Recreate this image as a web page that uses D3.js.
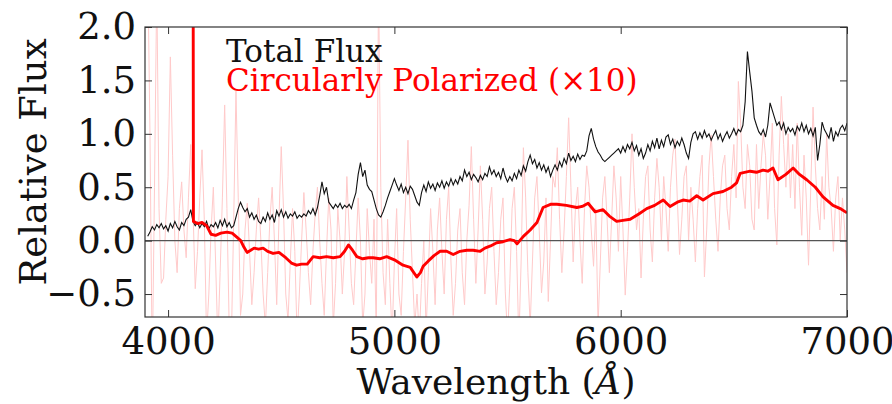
<!DOCTYPE html>
<html><head><meta charset="utf-8">
<script src="https://cdn.jsdelivr.net/npm/d3@7"></script>
<style>body{margin:0;background:#fff}svg{display:block}</style>
</head><body>
<svg id="chart" width="892" height="404"></svg>
<script>
// ---- data ----
const wlStart = 3910, wlStep = 10;           // wavelength grid (Å)
const totalFlux = [
0.04,0.08,0.13,0.10,0.15,0.12,0.16,0.11,0.14,0.09,
0.16,0.12,0.18,0.13,0.10,0.17,0.14,0.20,0.22,0.29,
0.18,0.14,0.17,0.12,0.16,0.13,0.18,0.11,0.15,0.13,
0.17,0.12,0.19,0.14,0.20,0.13,0.17,0.12,0.14,0.22,
0.30,0.36,0.31,0.27,0.30,0.22,0.26,0.20,0.24,0.18,
0.16,0.22,0.18,0.26,0.20,0.24,0.17,0.28,0.23,0.29,
0.22,0.27,0.21,0.25,0.23,0.27,0.21,0.24,0.22,0.25,
0.23,0.28,0.25,0.30,0.24,0.31,0.42,0.55,0.44,0.50,
0.36,0.33,0.30,0.34,0.31,0.35,0.30,0.33,0.31,0.34,
0.30,0.38,0.45,0.62,0.73,0.60,0.66,0.52,0.48,0.46,
0.38,0.30,0.24,0.22,0.27,0.33,0.40,0.46,0.52,0.58,
0.52,0.47,0.53,0.45,0.50,0.44,0.51,0.48,0.42,0.36,
0.33,0.45,0.52,0.46,0.55,0.49,0.53,0.47,0.54,0.50,
0.56,0.49,0.55,0.51,0.58,0.52,0.57,0.53,0.60,0.56,
0.66,0.60,0.64,0.57,0.62,0.59,0.55,0.61,0.57,0.63,
0.60,0.69,0.62,0.66,0.60,0.64,0.58,0.68,0.60,0.55,
0.60,0.56,0.63,0.58,0.66,0.61,0.70,0.65,0.74,0.80,
0.72,0.76,0.68,0.73,0.66,0.71,0.64,0.69,0.60,0.66,
0.71,0.66,0.74,0.69,0.77,0.72,0.82,0.75,0.79,0.74,
0.81,0.76,0.80,0.79,0.84,0.98,1.05,0.95,0.88,0.83,
0.80,0.76,0.74,0.76,0.78,0.80,0.82,0.84,0.86,0.82,
0.88,0.83,0.90,0.86,0.92,0.84,0.89,0.80,0.86,0.77,
0.82,0.90,0.84,0.93,0.87,0.96,0.86,0.94,0.88,0.97,
0.99,0.90,0.95,0.87,0.93,0.89,0.96,0.90,0.82,0.77,
0.92,1.00,1.02,0.95,1.01,0.96,1.03,0.97,1.00,0.94,
0.99,1.03,0.95,1.00,0.93,0.98,1.02,0.96,1.00,1.05,
0.99,1.04,1.02,1.08,1.30,1.77,1.58,1.40,1.15,1.08,
1.02,0.99,1.04,0.97,1.08,1.29,1.22,1.15,1.08,1.11,
1.04,1.10,1.00,1.06,1.02,1.05,0.99,1.07,1.03,1.10,
1.02,1.08,1.00,1.05,0.98,1.06,0.75,0.90,1.11,1.04,
1.00,0.96,1.06,0.93,1.02,0.98,1.05,1.08,1.03,1.10];
const polRaw = [
2.6,1.0,-1.2,0.5,2.4,0.3,-0.4,-0.35,0.2,0.6,
1.72,0.8,0.0,-0.3,0.3,0.55,0.1,-0.16,0.4,0.9,
0.3,-0.45,-0.1,0.4,0.85,0.2,-0.9,-0.5,0.1,0.5,
-0.2,-0.95,-0.3,0.4,1.27,0.3,-0.8,-0.9,0.2,1.40,
0.4,-0.7,-0.5,0.1,0.35,-0.1,-0.6,-0.3,0.1,0.4,
0.0,-0.5,-0.8,-0.3,0.2,0.5,0.0,-0.6,0.2,0.88,
0.3,-0.5,-0.75,-0.2,0.3,-0.1,-0.9,-0.5,0.0,0.45,
0.1,-0.3,-0.6,-0.1,0.25,0.5,0.0,-0.4,-0.7,-0.1,
0.4,0.1,-0.8,-0.4,0.3,0.0,-0.5,-0.1,0.6,0.1,
-0.4,-0.6,-0.1,0.4,0.0,-0.8,-0.5,0.3,-0.1,-0.4,
0.2,-0.9,2.4,0.5,-0.3,-0.6,0.2,-0.4,-0.9,-0.2,
0.3,-0.5,-0.7,-0.1,0.4,0.94,0.2,-0.3,-0.8,-0.5,
-0.9,-0.4,0.0,-0.85,-0.3,0.3,-0.1,-0.6,0.1,0.4,
-0.1,-0.5,0.2,0.5,-0.2,-0.7,-0.4,0.1,0.3,-0.3,
-0.6,0.0,0.33,0.88,0.2,-0.4,0.1,0.7,0.2,-0.5,
-0.2,0.3,0.5,-0.1,-0.6,-0.3,0.2,0.4,-0.48,-0.9,
-0.4,0.3,0.5,-0.1,-0.95,-0.2,0.87,0.4,-0.3,-0.8,
-0.2,0.4,0.6,0.1,-0.49,-0.2,0.4,-0.57,0.0,0.6,
0.5,0.87,0.2,-0.3,0.1,0.6,1.15,0.5,-0.2,0.3,
0.5,0.0,-0.4,0.3,0.7,0.5,0.1,-0.24,0.3,-0.8,
-0.2,0.4,0.6,0.2,-0.3,0.2,0.7,0.4,-0.1,0.6,
0.1,-0.51,-0.1,0.4,1.0,0.5,0.1,0.3,-0.35,0.2,
0.6,0.7,0.1,-0.2,0.4,0.77,0.5,0.0,0.6,0.3,
-0.1,0.5,0.8,0.95,0.4,-0.13,0.2,0.6,0.7,0.0,
0.5,0.2,-0.2,0.3,0.6,0.8,-0.34,0.1,0.7,0.99,
0.6,0.2,-0.1,0.4,0.7,0.8,0.3,0.1,0.6,0.9,
0.4,1.49,1.1,0.5,0.3,0.9,0.7,0.2,0.1,0.9,
0.3,0.7,1.0,0.8,0.2,0.6,1.1,0.3,-0.04,0.8,
1.35,0.9,0.5,1.0,0.4,0.9,0.3,1.1,0.5,0.05,
0.8,0.4,-0.23,0.5,1.25,0.7,0.3,0.1,0.6,0.2,
1.0,0.5,0.3,-0.1,0.4,0.6,0.0,0.4,0.1,-0.3];
const polSmoothWl = [4110,4112,4130,4150,4170,4190,4210,4233,4260,4283,4305,4321,4335,4349,4365,4380,4400,4420,4440,4464,4490,4520,4545,4568,4590,4615,4641,4670,4700,4730,4760,4780,4797,4815,4834,4860,4885,4906,4935,4966,5000,5038,5070,5099,5115,5127,5150,5175,5202,5231,5260,5290,5320,5348,5379,5400,5425,5452,5480,5511,5530,5542,5570,5600,5630,5657,5690,5718,5760,5806,5830,5856,5887,5922,5950,5982,6010,6042,6080,6115,6150,6188,6218,6250,6276,6305,6336,6364,6408,6452,6490,6512,6528,6572,6600,6629,6650,6673,6695,6730,6762,6790,6822,6860,6894,6938,6970,7000];
const polSmooth = [4.0,0.18,0.16,0.17,0.14,0.06,0.05,0.07,0.08,0.07,0.03,0.0,-0.06,-0.11,-0.09,-0.07,-0.08,-0.07,-0.10,-0.12,-0.11,-0.16,-0.21,-0.23,-0.22,-0.22,-0.15,-0.16,-0.15,-0.16,-0.15,-0.10,-0.04,-0.09,-0.15,-0.17,-0.16,-0.16,-0.17,-0.15,-0.18,-0.23,-0.25,-0.34,-0.30,-0.24,-0.19,-0.14,-0.10,-0.10,-0.13,-0.10,-0.09,-0.09,-0.10,-0.07,-0.05,-0.02,-0.01,0.01,0.0,-0.03,0.04,0.10,0.17,0.31,0.34,0.34,0.33,0.31,0.32,0.35,0.27,0.29,0.23,0.18,0.19,0.20,0.25,0.30,0.33,0.38,0.32,0.36,0.38,0.37,0.42,0.38,0.44,0.46,0.50,0.54,0.63,0.65,0.64,0.66,0.65,0.68,0.57,0.62,0.68,0.62,0.57,0.50,0.41,0.33,0.30,0.26];
const xTicks = [4000,5000,6000,7000];
const yTicks = [-0.5,0.0,0.5,1.0,1.5,2.0];
const legendLabels = ["Total Flux","Circularly Polarized (\u00d710)"];

// ---- drawing ----
const svg = d3.select("#chart");
const L = 145, R = 847, T = 27, B = 317;
const x = d3.scaleLinear().domain([3898, 7000]).range([L, R]);
const y = d3.scaleLinear().domain([-0.715, 2.0]).range([B, T]);
const font = "DejaVu Serif";

svg.append("defs").append("clipPath").attr("id","clip")
  .append("rect").attr("x",L).attr("y",T).attr("width",R-L).attr("height",B-T);

const g = svg.append("g").attr("clip-path","url(#clip)");
const grid = totalFlux.map((_, i) => wlStart + i * wlStep);

const line = d3.line().x(d => x(d[0])).y(d => y(d[1]));

g.append("path").datum(polRaw.map((v,i)=>[wlStart+i*wlStep, v]))
  .attr("d", line).attr("fill","none").attr("stroke","#ffcaca").attr("stroke-width",1);

g.append("line").attr("x1",L).attr("x2",R).attr("y1",y(0)).attr("y2",y(0))
  .attr("stroke","#555").attr("stroke-width",1.2);

g.append("path").datum(totalFlux.map((v,i)=>[grid[i], v]))
  .attr("d", line).attr("fill","none").attr("stroke","#111").attr("stroke-width",1.1);

g.append("path").datum(polSmooth.map((v,i)=>[polSmoothWl[i], v]))
  .attr("d", line).attr("fill","none").attr("stroke","#ff0000").attr("stroke-width",2.9)
  .attr("stroke-linejoin","round");

// axes (matplotlib classic: inward ticks on all four sides)
const tickLen = 7;
const axB = svg.append("g").attr("transform",`translate(0,${B})`)
  .call(d3.axisBottom(x).tickValues(xTicks).tickSize(-tickLen).tickPadding(11).tickFormat(d3.format("d")));
const axT = svg.append("g").attr("transform",`translate(0,${T})`)
  .call(d3.axisTop(x).tickValues(xTicks).tickSize(-tickLen).tickFormat(""));
const axL = svg.append("g").attr("transform",`translate(${L},0)`)
  .call(d3.axisLeft(y).tickValues(yTicks).tickSize(-tickLen).tickPadding(9)
    .tickFormat(d => d < 0 ? "\u2212" + Math.abs(d).toFixed(1) : d.toFixed(1)));
const axR = svg.append("g").attr("transform",`translate(${R},0)`)
  .call(d3.axisRight(y).tickValues(yTicks).tickSize(-tickLen).tickFormat(""));
[axB, axT, axL, axR].forEach(a => {
  a.select(".domain").remove();
  a.selectAll(".tick line").attr("stroke","#333").attr("stroke-width",1);
  a.selectAll("text").attr("font-family", font).attr("font-size", 37).attr("fill","#111");
});
axB.selectAll("text").attr("dy","0.71em");

svg.append("rect").attr("x",L).attr("y",T).attr("width",R-L).attr("height",B-T)
  .attr("fill","none").attr("stroke","#333").attr("stroke-width",1.2);

// labels
svg.append("text").attr("transform",`translate(46,${(T+B)/2 - 10}) rotate(-90)`)
  .attr("text-anchor","middle").attr("font-family",font).attr("font-size",37).attr("fill","#111")
  .text("Relative Flux");
const xl = svg.append("text").attr("x",(L+R)/2).attr("y",394).attr("text-anchor","middle")
  .attr("font-family",font).attr("font-size",36).attr("fill","#111");
xl.append("tspan").text("Wavelength (");
xl.append("tspan").attr("font-style","italic").text("\u00c5");
xl.append("tspan").text(")");

// legend
svg.append("text").attr("x",226).attr("y",62).attr("font-family",font).attr("font-size",31)
  .attr("fill","#111").text(legendLabels[0]);
svg.append("text").attr("x",226).attr("y",91).attr("font-family",font).attr("font-size",31)
  .attr("fill","#ff0000").text(legendLabels[1]);
</script>
</body></html>
